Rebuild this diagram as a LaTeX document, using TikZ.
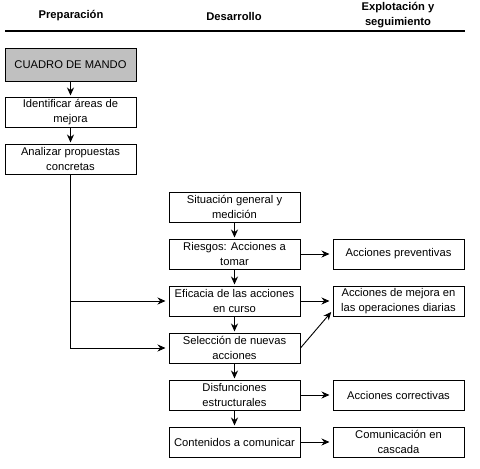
\documentclass[tikz,border=0pt]{standalone}
\usepackage{fontspec}
\setmainfont{Liberation Sans}
\usetikzlibrary{positioning, arrows.meta}

\definecolor{gris}{RGB}{192,192,192}

\begin{document}
\begin{tikzpicture}[x=1pt, y=-1pt, node distance=47pt,
    caja/.style={rectangle, draw, line width=1pt, minimum width=131pt, minimum height=30pt,
      inner sep=1pt, align=center, font=\fontsize{11.2}{15}\selectfont},
    titulo/.style={align=center, inner sep=0pt, font=\fontsize{11.2}{15}\selectfont\bfseries},
    flecha/.style={->, >={Stealth[length=8pt, width=7pt]}, line width=0.9pt, shorten >=1pt}]
    \useasboundingbox (0,0) rectangle (480,469);

    % cabecera
    \node[titulo] (preparacion) at (71,16) {Preparación};
    \node[titulo] (desarrollo) at (234,16) {Desarrollo};
    \node[titulo] (explotacion) at (398,15.5) {Explotación y\\seguimiento};
    \draw[line width=2pt] (5,31) -- (465,31);

    % preparacion
    \node[caja, fill=gris, minimum height=33pt] (cuadro) at (70.5,65) {CUADRO DE MANDO};
    \node[caja] (identificar) [below of=cuadro] {Identificar áreas de\\mejora};
    \node[caja] (analizar) [below of=identificar] {Analizar propuestas\\concretas};

    % desarrollo
    \node[caja] (situacion) at (234.5,207) {Situación general y\\medición};
    \node[caja] (riesgos) [below of=situacion] {Riesgos: Acciones a\\tomar};
    \node[caja] (eficacia) [below of=riesgos] {Eficacia de las acciones\\en curso};
    \node[caja] (seleccion) [below of=eficacia] {Selección de nuevas\\acciones};
    \node[caja] (disfunciones) [below of=seleccion] {Disfunciones\\estructurales};
    \node[caja] (contenidos) [below of=disfunciones] {Contenidos a comunicar};

    % explotacion y seguimiento
    \node[caja] (preventivas) [right of=riesgos, node distance=164pt] {Acciones preventivas};
    \node[caja] (mejora) [right of=eficacia, node distance=164pt] {Acciones de mejora en\\las operaciones diarias};
    \node[caja] (correctivas) [right of=disfunciones, node distance=164pt] {Acciones correctivas};
    \node[caja] (comunicacion) [right of=contenidos, node distance=164pt] {Comunicación en\\cascada};

    \draw[flecha] (cuadro) -- (identificar);
    \draw[flecha] (identificar) -- (analizar);
    \draw[flecha] (situacion) -- (riesgos);
    \draw[flecha] (riesgos) -- (eficacia);
    \draw[flecha] (eficacia) -- (seleccion);
    \draw[flecha] (seleccion) -- (disfunciones);
    \draw[flecha] (disfunciones) -- (contenidos);

    \coordinate (rama) at (analizar.south |- eficacia.west);
    \draw[flecha, shorten >=3pt] (analizar.south) |- (seleccion.west);
    \draw[flecha, shorten >=3pt] (rama) -- (eficacia.west);

    \draw[flecha, shorten >=3pt] (riesgos) -- (preventivas);
    \draw[flecha, shorten >=3pt] (eficacia) -- (mejora);
    \draw[flecha, shorten >=2pt] (seleccion.east) -- ([yshift=6pt]mejora.south west);
    \draw[flecha, shorten >=3pt] (disfunciones) -- (correctivas);
    \draw[flecha, shorten >=3pt] (contenidos) -- (comunicacion);

\end{tikzpicture}
\end{document}
